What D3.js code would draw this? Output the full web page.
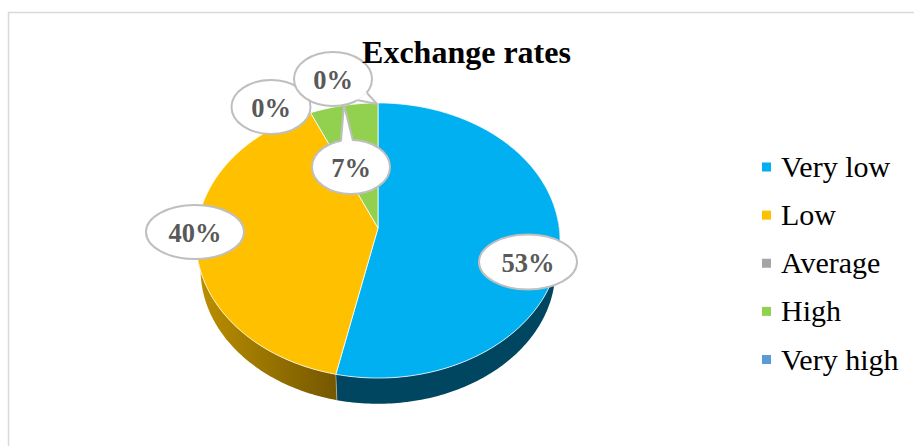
<!DOCTYPE html>
<html><head><meta charset="utf-8">
<script src="https://cdn.jsdelivr.net/npm/d3@7/dist/d3.min.js"></script>
<style>html,body{margin:0;padding:0;background:#fff}svg{display:block}text{font-family:"Liberation Serif",serif}</style>
</head><body><svg id="c" width="914" height="446"></svg>
<script>
const categories = ["Very low","Low","Average","High","Very high"];
const values = [53.4,40,0,6.6,0];
const labels = ["53%","40%","0%","7%","0%"];
const colors = ["#00B0F0","#FFC000","#A5A5A5","#92D050","#5B9BD5"];
const title = "Exchange rates";

const svg = d3.select("#c");
svg.append("path").attr("d","M914,12.5H8.5V446").attr("fill","none").attr("stroke","#d9d9d9").attr("stroke-width",1.5);

const defs = svg.append("defs");
const wg = defs.append("linearGradient").attr("id","wallY").attr("gradientUnits","userSpaceOnUse")
  .attr("x1",197).attr("x2",337).attr("y1",0).attr("y2",0);
wg.append("stop").attr("offset",0).attr("stop-color","#bd9000");
wg.append("stop").attr("offset",1).attr("stop-color","#745700");
const wallFill = ["#004661","url(#wallY)","#666","#5a802f","#385d80"];

const k = 0.0909;
const sx = d3.scaleLinear().domain([-1,1]).range([378-181.2,378+181.2]);
const sy = d3.scaleLinear().domain([-1,1]).range([228-136.4,228+136.4]);
const project = (a, dy=0, s=1) => {
  const X=Math.sin(a), Y=-Math.cos(a), w=1-k*Y;
  const cx=sx(0), cy=sy(0);
  return [cx+(sx(X/w)-cx)*s, cy+(sy(Y/w)-cy)*s+dy];
};
const arcs = d3.pie().sort(null).value(d=>d)(values);
const line = d3.line();
const angles = (a0,a1)=>{ const n=Math.max(2,Math.ceil((a1-a0)*60)); return d3.range(n+1).map(i=>a0+(a1-a0)*i/n); };

// side wall
const depth = 29.5, wallScale = 0.975;
const visibleStart = Math.PI*0.5, visibleEnd = Math.PI*1.5;
arcs.forEach((d,i)=>{
  const a0=Math.max(d.startAngle,visibleStart-0.05), a1=Math.min(d.endAngle,visibleEnd+0.05);
  if(a1<=a0) return;
  const top=angles(a0,a1).map(a=>project(a));
  const bot=angles(a0,a1).reverse().map(a=>project(a,depth,wallScale));
  svg.append("path").attr("d",line(top.concat(bot))+"Z").attr("fill",wallFill[i]);
});
// wall seam
const seam=arcs[0].endAngle;
svg.append("path").attr("d",line([project(seam),project(seam,depth,wallScale)])).attr("stroke","#c9c9c0").attr("stroke-width",0.8).attr("opacity",.7);

// top faces
const apex=[sx(0),sy(0)];
arcs.forEach((d,i)=>{
  if(d.value===0) return;
  const pts=angles(d.startAngle,d.endAngle).map(a=>project(a));
  svg.append("path").attr("d",line([apex].concat(pts))+"Z").attr("fill",colors[i])
    .attr("stroke","#fff").attr("stroke-opacity",.75).attr("stroke-width",1).attr("stroke-linejoin","round");
});

// data label callouts: centre, radii, tail base and tip
const callouts = [
 {c:[528,262],r:[49,27.5]},
 {c:[195,232],r:[49,27]},
 {c:[271,107],r:[39.5,27]},
 {c:[351,167],r:[39,27],tail:[[341,141],[344,105],[353,141]]},
 {c:[333,79],r:[39,27],tail:[[367,93],[377,104],[357,100]]}
];
const ell=(c,r)=>`M${c[0]-r[0]},${c[1]}A${r[0]},${r[1]} 0 1 1 ${c[0]+r[0]},${c[1]}A${r[0]},${r[1]} 0 1 1 ${c[0]-r[0]},${c[1]}Z`;
callouts.forEach((o,i)=>{
  const g=svg.append("g");
  g.append("path").attr("d",ell(o.c,o.r)).attr("fill","#fff").attr("stroke","#bfbfbf").attr("stroke-width",2);
  if(o.tail){
    g.append("path").attr("d",line(o.tail)+"Z").attr("fill","#fff").attr("stroke","none");
    g.append("path").attr("d",line(o.tail)).attr("fill","none").attr("stroke","#bfbfbf").attr("stroke-width",2);
    const inner=[o.tail[0],o.tail[2],o.c];
    g.append("path").attr("d",line(inner)+"Z").attr("fill","#fff");
  }
  g.append("text").attr("x",o.c[0]).attr("y",o.c[1]+10).attr("text-anchor","middle")
   .attr("font-size",26.5).attr("font-weight","bold").attr("fill","#595959").text(labels[i]);
});

svg.append("text").attr("x",466.5).attr("y",63).attr("text-anchor","middle").attr("font-size",32)
  .attr("font-weight","bold").attr("fill","#000").text(title);

// legend
const ly=d3.scalePoint().domain(categories).range([167,359.5]);
categories.forEach((c,i)=>{
  svg.append("rect").attr("x",762).attr("y",ly(c)-4.5).attr("width",9).attr("height",9).attr("fill",colors[i]);
  svg.append("text").attr("x",781).attr("y",ly(c)+10).attr("font-size",30).attr("fill","#000").text(c);
});
</script></body></html>
